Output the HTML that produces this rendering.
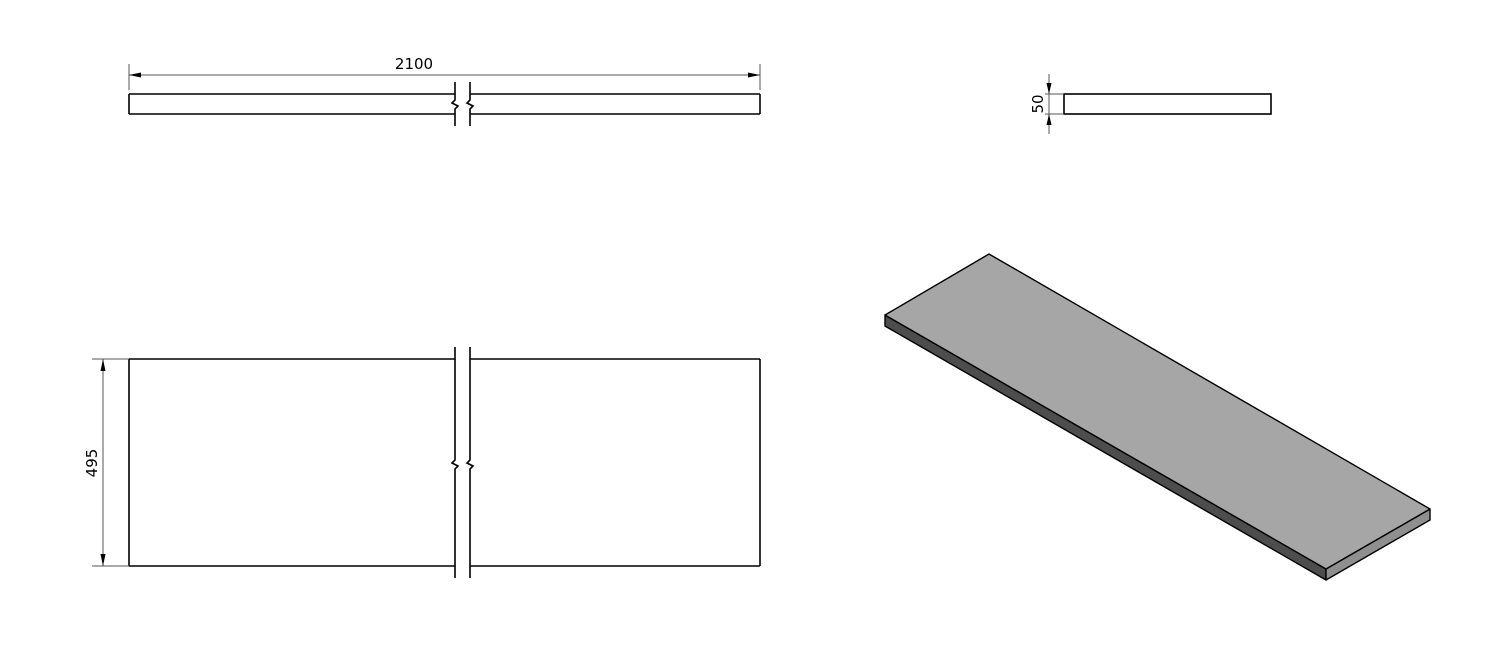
<!DOCTYPE html>
<html><head><style>html,body{margin:0;padding:0;background:#fff;}svg{display:block}</style></head>
<body>
<svg width="1500" height="645" viewBox="0 0 1500 645" xmlns="http://www.w3.org/2000/svg" font-family="'DejaVu Sans','Liberation Sans',sans-serif">
<rect width="1500" height="645" fill="#fff"/>
<!-- top view -->
<g stroke="#000" stroke-width="1.6" fill="none">
<line x1="129" y1="94" x2="455" y2="94"/><line x1="129" y1="114" x2="455" y2="114"/>
<line x1="470" y1="94" x2="760" y2="94"/><line x1="470" y1="114" x2="760" y2="114"/>
<line x1="129" y1="94" x2="129" y2="114"/><line x1="760" y1="94" x2="760" y2="114"/>
<path d="M455 82 V100 L452 103 L458 106 L455 109 V126"/>
<path d="M470 82 V100 L467 103 L473 106 L470 109 V126"/>
</g>
<g stroke="#555" stroke-width="1" fill="none">
<line x1="129" y1="64" x2="129" y2="90"/><line x1="760" y1="64" x2="760" y2="90"/>
<line x1="129" y1="75" x2="760" y2="75"/>
</g>
<path d="M129 75 l12 -2.5 v5z M760 75 l-12 -2.5 v5z" fill="#000"/>
<text x="414" y="69" font-size="15" text-anchor="middle">2100</text>
<!-- side view -->
<rect x="1064" y="94" width="207" height="20" fill="none" stroke="#000" stroke-width="1.6"/>
<g stroke="#555" stroke-width="1">
<line x1="1045" y1="94" x2="1064" y2="94"/><line x1="1045" y1="114" x2="1064" y2="114"/>
<line x1="1049" y1="74" x2="1049" y2="134"/>
</g>
<path d="M1049 94 l-2.5 -11 h5z M1049 114 l-2.5 11 h5z" fill="#000"/>
<text transform="translate(1043,104) rotate(-90)" font-size="15" text-anchor="middle">50</text>
<!-- plan view -->
<g stroke="#000" stroke-width="1.6" fill="none">
<line x1="129" y1="359" x2="455" y2="359"/><line x1="129" y1="566" x2="455" y2="566"/>
<line x1="470" y1="359" x2="760" y2="359"/><line x1="470" y1="566" x2="760" y2="566"/>
<line x1="129" y1="359" x2="129" y2="566"/><line x1="760" y1="359" x2="760" y2="566"/>
<path d="M455 347 V460 L452 463 L458 466 L455 469 V578"/>
<path d="M470 347 V460 L467 463 L473 466 L470 469 V578"/>
</g>
<g stroke="#555" stroke-width="1">
<line x1="92" y1="359" x2="129" y2="359"/><line x1="92" y1="566" x2="129" y2="566"/>
<line x1="103" y1="359" x2="103" y2="566"/>
</g>
<path d="M103 359 l-2.5 12 h5z M103 566 l-2.5 -12 h5z" fill="#000"/>
<text transform="translate(97,463) rotate(-90)" font-size="15" text-anchor="middle">495</text>
<!-- isometric -->
<g stroke="#000" stroke-width="1.4" stroke-linejoin="round">
<polygon points="885,315 1326,569 1326,580 885,326" fill="#4d4d4d"/>
<polygon points="1326,569 1430,509 1430,520 1326,580" fill="#8f8f8f"/>
<polygon points="885,315 989,254 1430,509 1326,569" fill="#a6a6a6"/>
</g>
</svg>
</body></html>
